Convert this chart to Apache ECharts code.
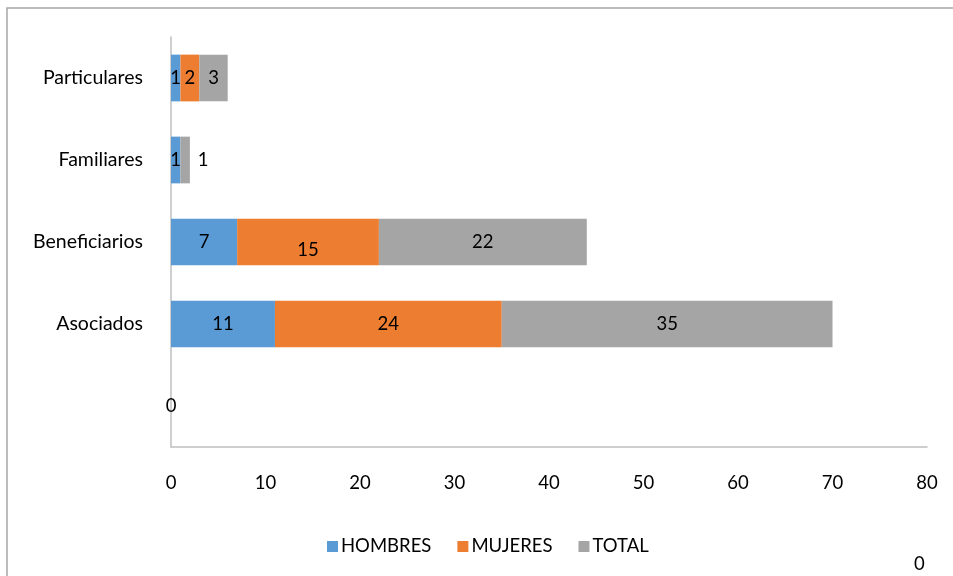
<!DOCTYPE html>
<html><head><meta charset="utf-8">
<script src="https://cdn.jsdelivr.net/npm/echarts@6/dist/echarts.min.js"></script>
<style>html,body{margin:0;padding:0;background:#fff}#c{width:953px;height:576px}</style>
</head><body><div id="c"></div>
<script>
const categories = ['', 'Asociados', 'Beneficiarios', 'Familiares', 'Particulares'];
const hombres = [0, 11, 7, 1, 1];
const mujeres = [0, 24, 15, 0, 2];
const total = [0, 35, 22, 1, 3];
const seriesNames = ['HOMBRES', 'MUJERES', 'TOTAL'];
const colors = ['#5B9BD5', '#ED7D31', '#A5A5A5'];
const FONT = 'Lato';
const FS = 18.5;

const chart = echarts.init(document.getElementById('c'));
function mk(name, vals, color, idx) {
  return {
    name: name, type: 'bar', stack: 's', barCategoryGap: '43%',
    itemStyle: { color: color },
    label: { show: true, position: 'inside', color: '#000', fontFamily: FONT, fontSize: FS },
    data: vals.map((v, i) => {
      const d = { value: v };
      if (idx === 1 && i === 3) d.label = { show: false };
      if (idx === 1 && i === 2) d.label = { offset: [0, 8] };
      if (idx === 2 && i === 3) d.label = { offset: [18, 0] };
      if (i === 0 && idx > 0) d.label = { show: false };
      return d;
    })
  };
}
chart.setOption({
  animation: false,
  textStyle: { fontFamily: FONT },
  grid: { left: 171, right: 26, top: 37, bottom: 129 },
  xAxis: {
    type: 'value', min: 0, max: 80, interval: 10,
    axisLine: { show: true, lineStyle: { color: '#BFBFBF', width: 1.5 } },
    axisTick: { show: false }, splitLine: { show: false },
    axisLabel: { color: '#000', fontSize: FS, fontFamily: FONT, margin: 27 }
  },
  yAxis: {
    type: 'category', data: categories,
    axisLine: { show: true, lineStyle: { color: '#BFBFBF', width: 1.5 } },
    axisTick: { show: false },
    axisLabel: { color: '#000', fontSize: 19.5, fontFamily: FONT, margin: 28 }
  },
  legend: {
    bottom: 15, left: 322, itemWidth: 11, itemHeight: 11, itemGap: 26,
    icon: 'rect', textStyle: { color: '#000', fontSize: FS, fontFamily: FONT, padding: [0, 0, 0, -2] },
    data: seriesNames
  },
  graphic: [
    { type: 'rect', shape: { x: 7, y: 8, width: 1000, height: 600 }, style: { fill: 'none', stroke: '#A6A6A6', lineWidth: 1.5 }, silent: true },
    { type: 'text', left: 914, top: 555, style: { text: '0', font: '18.5px Lato', fill: '#000' } }
  ],
  series: [mk(seriesNames[0], hombres, colors[0], 0), mk(seriesNames[1], mujeres, colors[1], 1), mk(seriesNames[2], total, colors[2], 2)]
});
</script></body></html>
